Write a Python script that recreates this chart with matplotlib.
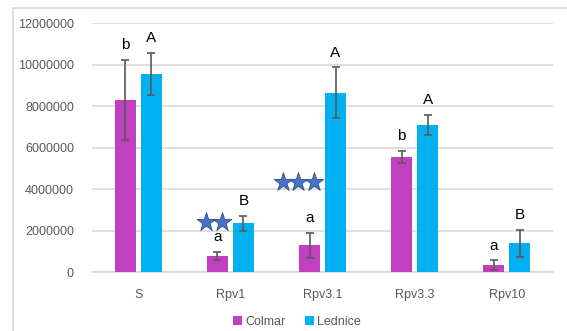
import matplotlib.pyplot as plt
import matplotlib.patches as patches
import numpy as np

plt.rcParams['font.family'] = ['Liberation Sans', 'DejaVu Sans']

categories = ['S', 'Rpv1', 'Rpv3.1', 'Rpv3.3', 'Rpv10']
colmar = [8300000, 790000, 1300000, 5540000, 340000]
colmar_err = [1930000, 200000, 600000, 300000, 220000]
lednice = [9540000, 2350000, 8640000, 7080000, 1380000]
lednice_err = [1020000, 370000, 1220000, 490000, 670000]
colmar_letters = ['b', 'a', 'a', 'b', 'a']
lednice_letters = ['A', 'B', 'A', 'A', 'B']

# significance stars: (category index, number of stars, height)
star_groups = [(1, 2, 2410000), (2, 3, 4340000)]

c_colmar = '#C040C0'
c_lednice = '#00B0F0'
grey = '#595959'

fig = plt.figure(figsize=(5.67, 3.31), dpi=100)
ax = fig.add_axes([0.1623, 0.178, 0.813, 0.7525])

# outer chart border
fig.patches.append(patches.Rectangle((13 / 567, -0.05), 1.0, 1 - 8 / 331 + 0.05,
                                     transform=fig.transFigure, fill=False,
                                     edgecolor='#D9D9D9', linewidth=1.2))

x = np.arange(len(categories))
w = 0.228
off = 0.141
err_kw = dict(ecolor=grey, elinewidth=1.2, capsize=3, capthick=1.2)
ax.bar(x - off, colmar, w, yerr=colmar_err, color=c_colmar, label='Colmar',
       error_kw=err_kw, zorder=3)
ax.bar(x + off, lednice, w, yerr=lednice_err, color=c_lednice, label='Lednice',
       error_kw=err_kw, zorder=3)

for i in range(len(categories)):
    ax.text(x[i] - off, colmar[i] + colmar_err[i] + 360000, colmar_letters[i],
            ha='center', va='bottom', fontsize=11, color='black')
    ax.text(x[i] + off, lednice[i] + lednice_err[i] + 360000, lednice_letters[i],
            ha='center', va='bottom', fontsize=11, color='black')

for idx, n, h in star_groups:
    xs = idx - 0.095 - 0.168 * np.arange(n)
    ax.scatter(xs, [h] * n, marker='*', s=200, color='#4472C4',
               edgecolor='#2F528F', linewidth=0.6, zorder=4, clip_on=False)

ax.set_xlim(-0.5, len(categories) - 0.5)
ax.set_ylim(0, 12000000)
ax.set_yticks(np.arange(0, 12000001, 2000000))
ax.set_yticklabels([str(v) for v in range(0, 12000001, 2000000)])
ax.set_xticks(x)
ax.set_xticklabels(categories)
ax.tick_params(axis='both', length=0, labelsize=9, labelcolor=grey)
ax.tick_params(axis='x', pad=12)
ax.tick_params(axis='y', pad=13)
ax.grid(axis='y', color='#D9D9D9', linewidth=1.2, zorder=0)
for s in ['top', 'right', 'left']:
    ax.spines[s].set_visible(False)
ax.spines['bottom'].set_color('#D9D9D9')
ax.spines['bottom'].set_linewidth(1.2)

ax.legend(loc='upper center', bbox_to_anchor=(0.445, -0.13), ncol=2,
          frameon=False, fontsize=9, labelcolor=grey, handlelength=0.7,
          handleheight=0.7, handletextpad=0.3, columnspacing=1.5)

fig.savefig('out.png', dpi=100)
